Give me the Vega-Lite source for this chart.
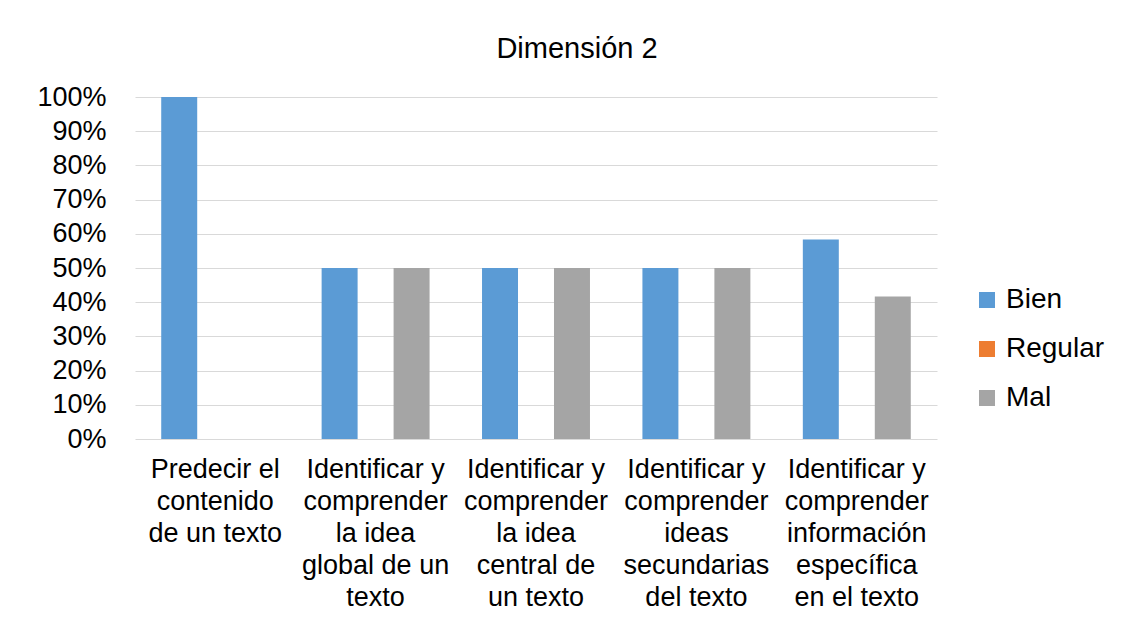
{
  "$schema": "https://vega.github.io/schema/vega-lite/v6.json",
  "width": 802,
  "height": 342,
  "autosize": {"type": "none"},
  "padding": {"left": 135, "top": 97, "right": 193, "bottom": 184},
  "background": "white",
  "title": {
    "text": "Dimensión 2",
    "font": "Liberation Sans",
    "fontSize": 29,
    "fontWeight": "normal",
    "color": "#000000",
    "anchor": "middle",
    "frame": "group",
    "dx": 41,
    "offset": 19
  },
  "data": {
    "values": [
      {"categoria": "Predecir el contenido de un texto", "nivel": "Bien", "valor": 1.0},
      {"categoria": "Predecir el contenido de un texto", "nivel": "Regular", "valor": 0.0},
      {"categoria": "Predecir el contenido de un texto", "nivel": "Mal", "valor": 0.0},
      {"categoria": "Identificar y comprender la idea global de un texto", "nivel": "Bien", "valor": 0.5},
      {"categoria": "Identificar y comprender la idea global de un texto", "nivel": "Regular", "valor": 0.0},
      {"categoria": "Identificar y comprender la idea global de un texto", "nivel": "Mal", "valor": 0.5},
      {"categoria": "Identificar y comprender la idea central de un texto", "nivel": "Bien", "valor": 0.5},
      {"categoria": "Identificar y comprender la idea central de un texto", "nivel": "Regular", "valor": 0.0},
      {"categoria": "Identificar y comprender la idea central de un texto", "nivel": "Mal", "valor": 0.5},
      {"categoria": "Identificar y comprender ideas secundarias del texto", "nivel": "Bien", "valor": 0.5},
      {"categoria": "Identificar y comprender ideas secundarias del texto", "nivel": "Regular", "valor": 0.0},
      {"categoria": "Identificar y comprender ideas secundarias del texto", "nivel": "Mal", "valor": 0.5},
      {"categoria": "Identificar y comprender información específica en el texto", "nivel": "Bien", "valor": 0.583},
      {"categoria": "Identificar y comprender información específica en el texto", "nivel": "Regular", "valor": 0.0},
      {"categoria": "Identificar y comprender información específica en el texto", "nivel": "Mal", "valor": 0.417}
    ]
  },
  "mark": {"type": "bar"},
  "encoding": {
    "x": {
      "field": "categoria",
      "type": "nominal",
      "sort": null,
      "scale": {"paddingInner": 0.327, "paddingOuter": 0.1635},
      "axis": {
        "title": null,
        "labelAngle": 0,
        "labelFont": "Liberation Sans",
        "labelFontSize": 27,
        "labelColor": "#000000",
        "labelLineHeight": 32,
        "labelPadding": 17,
        "ticks": false,
        "domain": false,
        "labelLimit": 0,
        "labelExpr": "datum.label === 'Predecir el contenido de un texto' ? ['Predecir el', 'contenido', 'de un texto'] : datum.label === 'Identificar y comprender la idea global de un texto' ? ['Identificar y', 'comprender', 'la idea', 'global de un', 'texto'] : datum.label === 'Identificar y comprender la idea central de un texto' ? ['Identificar y', 'comprender', 'la idea', 'central de', 'un texto'] : datum.label === 'Identificar y comprender ideas secundarias del texto' ? ['Identificar y', 'comprender', 'ideas', 'secundarias', 'del texto'] : ['Identificar y', 'comprender', 'información', 'específica', 'en el texto']"
      }
    },
    "xOffset": {
      "field": "nivel",
      "type": "nominal",
      "sort": ["Bien", "Regular", "Mal"],
      "scale": {"paddingInner": 0, "paddingOuter": 0}
    },
    "y": {
      "field": "valor",
      "type": "quantitative",
      "scale": {"domain": [0, 1]},
      "axis": {
        "title": null,
        "values": [0, 0.1, 0.2, 0.3, 0.4, 0.5, 0.6, 0.7, 0.8, 0.9, 1.0],
        "format": ".0%",
        "labelFont": "Liberation Sans",
        "labelFontSize": 27,
        "labelColor": "#000000",
        "labelPadding": 29,
        "ticks": false,
        "domain": false,
        "grid": true,
        "gridColor": "#d9d9d9",
        "gridWidth": 1
      }
    },
    "color": {
      "field": "nivel",
      "type": "nominal",
      "sort": ["Bien", "Regular", "Mal"],
      "scale": {"domain": ["Bien", "Regular", "Mal"], "range": ["#5B9BD5", "#ED7D31", "#A5A5A5"]},
      "legend": {
        "title": null,
        "orient": "none",
        "legendX": 838,
        "legendY": 189,
        "symbolType": "square",
        "symbolSize": 256,
        "symbolStrokeWidth": 0,
        "labelFont": "Liberation Sans",
        "labelFontSize": 28,
        "labelColor": "#000000",
        "labelOffset": 5,
        "rowPadding": 21
      }
    }
  },
  "config": {
    "view": {"stroke": null}
  }
}
